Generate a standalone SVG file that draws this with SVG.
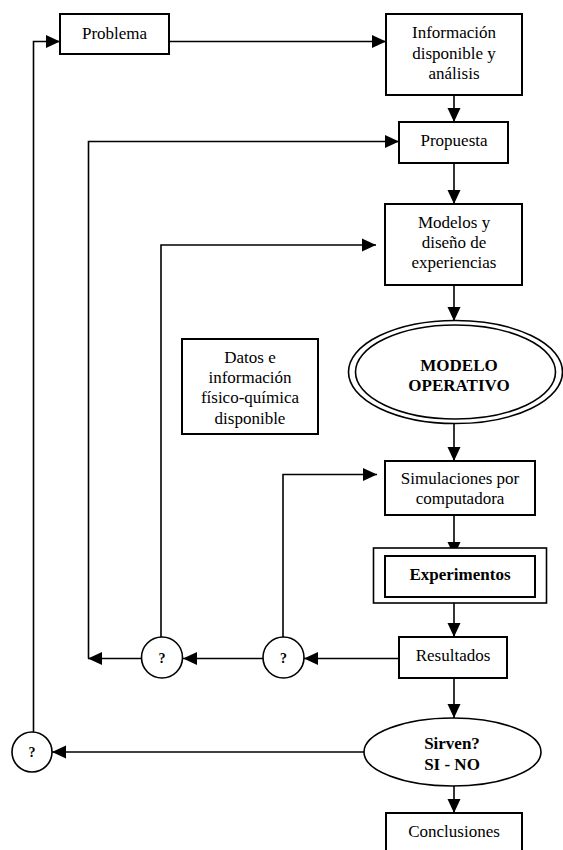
<svg xmlns="http://www.w3.org/2000/svg" width="563" height="850" viewBox="0 0 563 850">
<style>
.box{fill:#fff;stroke:#000;stroke-width:2}
.shape{fill:#fff;stroke:#000;stroke-width:1.6}
.ln{fill:none;stroke:#000;stroke-width:1.6}
text{font-family:"Liberation Serif","Times New Roman",serif;font-size:17px;fill:#000;text-anchor:middle}
.b{font-weight:bold}
.q{font-weight:bold;font-size:14px}
</style>
<defs>
<marker id="ah" markerUnits="userSpaceOnUse" markerWidth="14" markerHeight="14" viewBox="0 0 14 14" refX="14" refY="7" orient="auto">
<path d="M0,0.5 L14,7 L0,13.5 z" fill="#000"/>
</marker>
</defs>
<rect width="563" height="850" fill="#fff"/>
<g id="connectors">
<path class="ln" d="M170,41.5 H386" marker-end="url(#ah)"/>
<path class="ln" d="M454,95 V122" marker-end="url(#ah)"/>
<path class="ln" d="M454,163 V204" marker-end="url(#ah)"/>
<path class="ln" d="M454,285 V321" marker-end="url(#ah)"/>
<path class="ln" d="M454,423 V461" marker-end="url(#ah)"/>
<path class="ln" d="M454,515 V556" marker-end="url(#ah)"/>
<path class="ln" d="M454,603 V637" marker-end="url(#ah)"/>
<path class="ln" d="M454,678 V718" marker-end="url(#ah)"/>
<path class="ln" d="M454,786 V813" marker-end="url(#ah)"/>
<path class="ln" d="M399,658.5 H304" marker-end="url(#ah)"/>
<path class="ln" d="M263,658.5 H183" marker-end="url(#ah)"/>
<path class="ln" d="M142,658.5 H88" marker-end="url(#ah)"/>
<path class="ln" d="M88.5,658.5 V141.5 H399" marker-end="url(#ah)"/>
<path class="ln" d="M161,637 V245 H376" marker-end="url(#ah)"/>
<path class="ln" d="M283,637 V474.5 H377" marker-end="url(#ah)"/>
<path class="ln" d="M364,752 H52" marker-end="url(#ah)"/>
<path class="ln" d="M33.5,732 V41.5 H60" marker-end="url(#ah)"/>
</g>
<g id="problema">
<rect class="box" x="60" y="14" width="109" height="40"/>
<text x="114.5" y="39">Problema</text>
</g>
<g id="informacion">
<rect class="box" x="386" y="14" width="136" height="81"/>
<text x="454" y="37.5">Información</text>
<text x="454" y="59">disponible y</text>
<text x="454" y="79">análisis</text>
</g>
<g id="propuesta">
<rect class="box" x="399" y="122" width="109" height="41"/>
<text x="454" y="146">Propuesta</text>
</g>
<g id="modelos">
<rect class="box" x="385" y="204" width="137" height="81"/>
<text x="454" y="227.5">Modelos y</text>
<text x="454" y="247.5">diseño de</text>
<text x="454" y="267.5">experiencias</text>
</g>
<g id="datos">
<rect class="box" x="182" y="339" width="136" height="95"/>
<text x="250" y="362.5">Datos e</text>
<text x="250" y="382.5">información</text>
<text x="250" y="403">físico-química</text>
<text x="250" y="423.5">disponible</text>
</g>
<g id="modelo-operativo">
<ellipse class="shape" cx="455.5" cy="372" rx="107" ry="51.5"/>
<ellipse class="shape" cx="455.5" cy="372" rx="100" ry="47"/>
<text class="b" x="459" y="371">MODELO</text>
<text class="b" x="459" y="391">OPERATIVO</text>
</g>
<g id="simulaciones">
<rect class="box" x="385" y="461" width="150" height="54"/>
<text x="460" y="484">Simulaciones por</text>
<text x="460" y="504">computadora</text>
</g>
<g id="experimentos">
<rect class="shape" x="373.5" y="548" width="173" height="55"/>
<rect class="box" x="385" y="556" width="150" height="41"/>
<text class="b" x="460" y="580">Experimentos</text>
</g>
<g id="resultados">
<rect class="box" x="399" y="637" width="108" height="41"/>
<text x="453" y="661">Resultados</text>
</g>
<g id="q2">
<circle class="shape" cx="283.5" cy="657.5" r="20.5"/>
<text class="q" x="283.5" y="662.5">?</text>
</g>
<g id="q1">
<circle class="shape" cx="162" cy="657.5" r="20.5"/>
<text class="q" x="162" y="662.5">?</text>
</g>
<g id="sirven">
<ellipse class="shape" cx="452.5" cy="752" rx="88.5" ry="34"/>
<text class="b" x="452" y="749">Sirven?</text>
<text class="b" x="452" y="769.5">SI - NO</text>
</g>
<g id="q3">
<circle class="shape" cx="32" cy="752" r="20"/>
<text class="q" x="32" y="757">?</text>
</g>
<g id="conclusiones">
<rect class="box" x="386" y="813" width="136" height="48"/>
<text x="454" y="836.5">Conclusiones</text>
</g>
</svg>
